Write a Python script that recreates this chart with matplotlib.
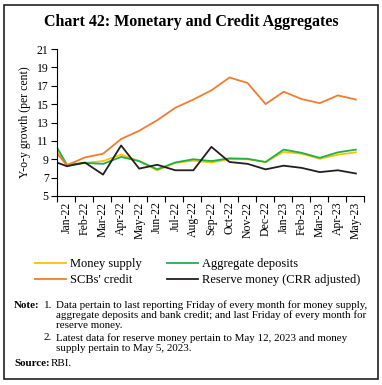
import numpy as np
import matplotlib
matplotlib.use("Agg")
import matplotlib.pyplot as plt
from matplotlib.patches import Rectangle

plt.rcParams["font.family"] = ["Liberation Serif", "DejaVu Serif"]

months = ["Jan-22", "Feb-22", "Mar-22", "Apr-22", "May-22", "Jun-22", "Jul-22",
          "Aug-22", "Sep-22", "Oct-22", "Nov-22", "Dec-22", "Jan-23", "Feb-23",
          "Mar-23", "Apr-23", "May-23"]

# first value is Dec-21 (only partly visible, clipped by the axis)
money_supply = [11.0, 8.3, 8.6, 8.8, 9.5, 8.8, 7.8, 8.6, 8.85, 8.65, 9.0, 9.0,
                8.7, 9.8, 9.6, 9.05, 9.5, 9.75]
agg_deposits = [11.8, 8.4, 8.6, 8.5, 9.25, 8.8, 7.9, 8.65, 9.0, 8.8, 9.1, 9.05,
                8.7, 10.05, 9.7, 9.15, 9.75, 10.05]
scb_credit = [10.7, 8.35, 9.2, 9.6, 11.2, 12.1, 13.25, 14.6, 15.5, 16.5, 17.9,
              17.3, 15.0, 16.35, 15.55, 15.1, 15.95, 15.5]
reserve_money = [8.97, 8.24, 8.64, 7.33, 10.5, 7.98, 8.4, 7.8, 7.8, 10.35, 8.7,
                 8.5, 7.9, 8.3, 8.06, 7.6, 7.8, 7.45]

series = [
    ("Money supply", money_supply, "#FFC000"),
    ("Aggregate deposits", agg_deposits, "#20B04B"),
    ("SCBs' credit", scb_credit, "#F47B30"),
    ("Reserve money (CRR adjusted)", reserve_money, "#231F20"),
]

fig = plt.figure(figsize=(3.82, 3.85), dpi=100)
ax = fig.add_axes([57 / 382, 1 - 196 / 385, (364 - 57) / 382, (196 - 49) / 385])

x = np.arange(-1, len(months))
handles = []
for name, vals, col in series:
    (h,) = ax.plot(x, vals, color=col, lw=1.3, label=name)
    handles.append(h)

ax.set_xlim(-0.55, len(months) - 0.55)
ax.set_ylim(5, 21)
ax.set_yticks(np.arange(5, 22, 2))
ax.set_xticks(np.arange(-0.55, len(months), 1.0))
ax.set_xticklabels([])
ax.set_xticks(np.arange(len(months)), minor=True)
ax.set_xticklabels(months, minor=True, rotation=90)
ax.tick_params(axis="x", which="major", length=4, width=0.8, direction="out")
ax.tick_params(axis="x", which="minor", length=0, pad=4, labelsize=8.5)
ax.tick_params(axis="y", length=4, width=0.8, labelsize=8.5, pad=2)
for s in ["top", "right"]:
    ax.spines[s].set_visible(False)
ax.set_ylabel("Y-o-y growth (per cent)", fontsize=8.5, labelpad=4)

# legend fills column-wise: order so rows read as in the reference
leg_order = [handles[0], handles[2], handles[1], handles[3]]
fig.legend(handles=leg_order, loc="upper left", bbox_to_anchor=(30 / 382, 1 - 253 / 385),
           ncol=2, frameon=False, fontsize=9, handlelength=2.5, handletextpad=0.3,
           columnspacing=2.0, labelspacing=0.35, borderaxespad=0)

fig.text(0.5, 1 - 22 / 385, "Chart 42: Monetary and Credit Aggregates",
         ha="center", va="center", fontsize=11.5, fontweight="bold")

fs = 7.9
fig.text(14 / 382, 1 - 305 / 385, "Note:", fontsize=fs, fontweight="bold", va="center")
fig.text(44 / 382, 1 - 305 / 385, "1.", fontsize=fs, va="center")
note_lines = [
    "Data pertain to last reporting Friday of every month for money supply,",
    "aggregate deposits and bank credit; and last Friday of every month for",
    "reserve money.",
]
for i, t in enumerate(note_lines):
    fig.text(56 / 382, 1 - (305 + 10 * i) / 385, t, fontsize=fs, va="center")
fig.text(44 / 382, 1 - 338 / 385, "2.", fontsize=fs, va="center")
fig.text(56 / 382, 1 - 338 / 385,
         "Latest data for reserve money pertain to May 12, 2023 and money",
         fontsize=fs, va="center")
fig.text(56 / 382, 1 - 348.5 / 385, "supply pertain to May 5, 2023.", fontsize=fs, va="center")
fig.text(14 / 382, 1 - 364 / 385, "Source:", fontsize=fs, fontweight="bold", va="center")
fig.text(51 / 382, 1 - 364 / 385, "RBI.", fontsize=fs, va="center")

fig.patches.append(Rectangle((4 / 382, 1 - 379 / 385), 374 / 382, 374 / 385,
                             transform=fig.transFigure, fill=False, lw=1.2,
                             edgecolor="#231F20"))

fig.savefig("out.png", dpi=100)
